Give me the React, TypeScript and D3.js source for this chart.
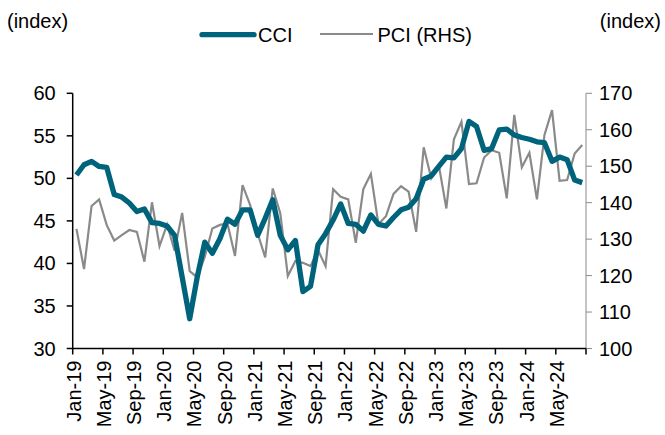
import { scaleBand, scaleLinear, line as d3_line, timeMonth, timeFormat } from "d3";

// Monthly data, Jan-19 .. Aug-24
const months = timeMonth.range(new Date(2019, 0, 1), new Date(2024, 8, 1));

const cci = [
  50.4, 51.6, 52.0, 51.4, 51.3, 48.1, 47.8, 47.1, 46.1, 46.4, 44.8, 44.7,
  44.4, 43.3, 38.4, 33.5, 38.4, 42.5, 41.2, 42.9, 45.2, 44.6, 46.3, 46.3,
  43.3, 45.3, 47.5, 43.3, 41.6, 42.7, 36.7, 37.3, 42.2, 43.5, 45.1, 47.0,
  44.7, 44.6, 43.8, 45.7, 44.6, 44.4, 45.4, 46.3, 46.6, 47.6, 49.9, 50.3,
  51.4, 52.5, 52.4, 53.5, 56.7, 56.1, 53.3, 53.5, 55.7, 55.8, 55.1, 54.8,
  54.6, 54.3, 54.2, 52.0, 52.5, 52.2, 49.8, 49.5,
];

const pci = [
  132.8, 121.8, 139.1, 140.9, 133.9, 129.6, 131.1, 132.5, 132.0, 123.8, 140.1, 128.1,
  134.0, 126.8, 137.2, 121.2, 119.5, 125.2, 132.9, 133.9, 134.3, 125.4, 144.8, 139.4,
  131.6, 125.0, 143.9, 137.1, 119.9, 124.0, 123.5, 122.6, 127.0, 122.6, 143.7, 141.6,
  140.9, 129.0, 143.7, 147.9, 134.1, 136.3, 142.4, 144.5, 143.0, 132.0, 155.2, 146.7,
  150.3, 138.4, 157.4, 162.2, 145.1, 145.3, 152.4, 154.4, 153.7, 141.2, 164.1, 149.7,
  153.7, 140.9, 158.6, 165.4, 146.0, 146.2, 153.5, 155.8,
];

const leftTicks = [30, 35, 40, 45, 50, 55, 60];
const rightTicks = [100, 110, 120, 130, 140, 150, 160, 170];
const tickEvery = 4;

const teal = "#00637c";
const grey = "#8a8a8a";
const font = "'Liberation Sans', Arial, sans-serif";
const fs = 20;

export default function App() {
  const W = 665, H = 435;
  const left = 72.7, right = 586, top = 93.3, bottom = 348.5;

  const x = scaleBand<number>()
    .domain(months.map((_, i) => i))
    .range([left, right])
    .padding(0);
  const bw = x.bandwidth();
  const cx = (i: number) => (x(i) ?? 0) + bw / 2;

  const yL = scaleLinear().domain([30, 60]).range([bottom, top]);
  const yR = scaleLinear().domain([100, 170]).range([bottom, top]);

  const cciPath = d3_line<number>().x((_, i) => cx(i)).y((d) => yL(d))(cci) ?? "";
  const pciPath = d3_line<number>().x((_, i) => cx(i)).y((d) => yR(d))(pci) ?? "";

  const fmt = timeFormat("%b-%y");
  const tickIdx = months.map((_, i) => i).filter((i) => i % tickEvery === 0);

  return (
    <svg
      width={W}
      height={H}
      style={{ position: "absolute", left: 0, top: 0, background: "#fff" }}
      fontFamily={font}
    >
      {/* axis titles */}
      <text x={7} y={28} fontSize={fs} fill="#000">(index)</text>
      <text x={661} y={28} fontSize={fs} fill="#000" textAnchor="end">(index)</text>

      {/* legend */}
      <line x1={202} x2={254} y1={34.7} y2={34.7} stroke={teal} strokeWidth={5.3} strokeLinecap="round" />
      <text x={258} y={34.7} dy="0.35em" fontSize={fs}>CCI</text>
      <line x1={320} x2={373} y1={34} y2={34} stroke={grey} strokeWidth={2.2} />
      <text x={377.5} y={34.7} dy="0.35em" fontSize={fs}>PCI (RHS)</text>

      {/* right axis */}
      <line x1={right} x2={right} y1={top} y2={bottom} stroke={grey} strokeWidth={1} />
      {rightTicks.map((t) => (
        <g key={t}>
          <line x1={right} x2={right + 6} y1={yR(t)} y2={yR(t)} stroke={grey} />
          <text x={right + 13} y={yR(t)} dy="0.35em" fontSize={fs}>{t}</text>
        </g>
      ))}

      {/* series */}
      <path d={pciPath} fill="none" stroke={grey} strokeWidth={2.2} strokeLinejoin="miter" />
      <path d={cciPath} fill="none" stroke={teal} strokeWidth={5.3} strokeLinejoin="round" />

      {/* left axis */}
      <line x1={left} x2={left} y1={top} y2={bottom} stroke="#000" strokeWidth={1.5} />
      {leftTicks.map((t) => (
        <g key={t}>
          <line x1={left - 6} x2={left} y1={yL(t)} y2={yL(t)} stroke="#000" strokeWidth={1.5} />
          <text x={left - 17} y={yL(t)} dy="0.35em" fontSize={fs} textAnchor="end">{t}</text>
        </g>
      ))}

      {/* bottom axis */}
      <line x1={left} x2={right} y1={bottom} y2={bottom} stroke="#000" strokeWidth={1.5} />
      {[...tickIdx, months.length].map((i) => {
        const px = i < months.length ? (x(i) ?? 0) : right;
        return <line key={i} x1={px} x2={px} y1={bottom} y2={bottom + 6} stroke="#000" strokeWidth={1.5} />;
      })}
      {tickIdx.map((i) => {
        const px = x(i) ?? 0;
        return (
          <text
            key={i}
            transform={`translate(${px + 1},${bottom + 12}) rotate(-90)`}
            dy="0.35em"
            textAnchor="end"
            fontSize={fs}
          >
            {fmt(months[i])}
          </text>
        );
      })}
    </svg>
  );
}
